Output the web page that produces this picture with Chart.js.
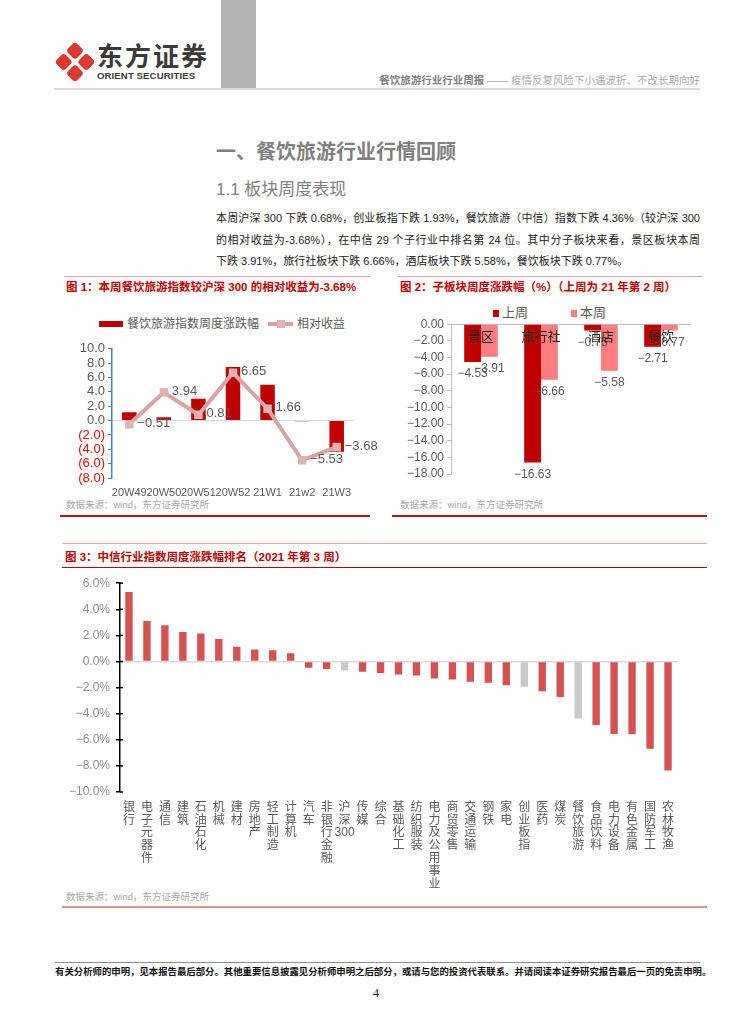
<!DOCTYPE html>
<html><head><meta charset="utf-8">
<script src="https://cdn.jsdelivr.net/npm/chart.js@4/dist/chart.umd.min.js"></script>
<style>
html,body{margin:0;padding:0;background:#fff;}
body{width:754px;height:1024px;position:relative;overflow:hidden;font-family:'Liberation Sans','Noto Sans CJK SC',sans-serif;}
.abs{position:absolute;}
.hline{position:absolute;height:0;}
.para{position:absolute;left:216px;width:484px;font-size:11px;color:#222;line-height:14px;white-space:nowrap;}
.just{text-align:justify;text-align-last:justify;white-space:normal;}
.ctitle{position:absolute;font-size:11.5px;font-weight:bold;color:#C00000;white-space:nowrap;line-height:14px;}
.src{position:absolute;font-size:9.5px;color:#A6A6A6;white-space:nowrap;line-height:12px;}
.lg{position:absolute;font-size:12px;color:#595959;white-space:nowrap;line-height:14px;}
canvas{display:block;}
.cwrap{position:absolute;}
</style></head>
<body>
<!-- header -->
<svg class="abs" style="left:54px;top:40px" width="42" height="44" viewBox="0 0 42 44">
  <g transform="translate(21,22) rotate(45)">
    <rect x="-14.5" y="-14.5" width="13" height="13" rx="3.5" fill="#DC3A31"/>
    <rect x="1.5" y="-14.5" width="13" height="13" rx="3.5" fill="#DC3A31"/>
    <rect x="-14.5" y="1.5" width="13" height="13" rx="3.5" fill="#DC3A31"/>
    <rect x="1.5" y="1.5" width="13" height="13" rx="3.5" fill="#DC3A31"/>
  </g>
</svg>
<div class="abs" style="left:97px;top:40px;font-size:26px;font-weight:bold;color:#3A3A3A;letter-spacing:2px;line-height:30px;font-family:'Noto Sans CJK SC',sans-serif;">东方证券</div>
<div class="abs" style="left:97px;top:70px;font-size:9.6px;font-weight:bold;color:#3A3A3A;line-height:11px;letter-spacing:0.1px;">ORIENT SECURITIES</div>
<div class="abs" style="left:221px;top:0;width:35px;height:89px;background:#B3B3B3;"></div>
<div class="abs" style="right:54px;top:74px;font-size:10.5px;line-height:13px;color:#A6A6A6;white-space:nowrap;"><span style="color:#7F7F7F;font-weight:bold;">餐饮旅游行业行业周报</span> —— 疫情反复风险下小遇波折、不改长期向好</div>
<div class="hline" style="left:54px;width:646px;top:88px;border-top:2px solid #DADADA;"></div>

<div class="abs" style="left:216px;top:139px;font-size:20px;font-weight:bold;color:#7F7F7F;line-height:26px;white-space:nowrap;">一、餐饮旅游行业行情回顾</div>
<div class="abs" style="left:216px;top:179px;font-size:17px;color:#7F7F7F;line-height:22px;white-space:nowrap;">1.1 板块周度表现</div>
<div class="para just" style="top:211px;">本周沪深 300 下跌 0.68%，创业板指下跌 1.93%，餐饮旅游（中信）指数下跌 4.36%（较沪深 300</div>
<div class="para just" style="top:233px;">的相对收益为-3.68%），在中信 29 个子行业中排名第 24 位。其中分子板块来看，景区板块本周</div>
<div class="para" style="top:254px;">下跌 3.91%，旅行社板块下跌 6.66%，酒店板块下跌 5.58%，餐饮板块下跌 0.77%。</div>

<!-- chart 1 frame -->
<div class="hline" style="left:64px;width:306px;top:276px;border-top:1px solid #E8A0A0;"></div>
<div class="ctitle" style="left:66px;top:280px;">图 1：本周餐饮旅游指数较沪深 300 的相对收益为-3.68%</div>
<div class="src" style="left:66px;top:499px;">数据来源：wind，东方证券研究所</div>
<div class="hline" style="left:60px;width:310px;top:515px;border-top:2px solid #C81010;"></div>
<div class="abs" style="left:99px;top:321px;width:24px;height:6px;background:#C00000;"></div>
<div class="lg" style="left:127px;top:317px;">餐饮旅游指数周度涨跌幅</div>
<div class="abs" style="left:268px;top:322px;width:25px;height:4px;background:#D9A3A3;"></div>
<div class="abs" style="left:277px;top:320px;width:8px;height:8px;background:#DDB3B3;"></div>
<div class="lg" style="left:297px;top:317px;">相对收益</div>
<div class="cwrap" style="left:55px;top:338px;width:330px;height:162px;"><canvas id="c1"></canvas></div>

<!-- chart 2 frame -->
<div class="hline" style="left:398px;width:304px;top:276px;border-top:1px solid #E8A0A0;"></div>
<div class="ctitle" style="left:400px;top:280px;">图 2：子板块周度涨跌幅（%）（上周为 21 年第 2 周）</div>
<div class="src" style="left:400px;top:499px;">数据来源：wind，东方证券研究所</div>
<div class="hline" style="left:392px;width:315px;top:515px;border-top:2px solid #C81010;"></div>
<div class="abs" style="left:493px;top:310px;width:6px;height:7px;background:#C00000;"></div>
<div class="lg" style="left:502px;top:305px;font-size:13px;line-height:16px;">上周</div>
<div class="abs" style="left:571px;top:310px;width:6px;height:7px;background:#FF7C80;"></div>
<div class="lg" style="left:580px;top:305px;font-size:13px;line-height:16px;">本周</div>
<div class="cwrap" style="left:390px;top:314px;width:312px;height:174px;"><canvas id="c2"></canvas></div>

<!-- chart 3 frame -->
<div class="hline" style="left:62px;width:645px;top:543px;border-top:1px solid #E8A0A0;"></div>
<div class="ctitle" style="left:65px;top:550px;">图 3：中信行业指数周度涨跌幅排名（2021 年第 3 周）</div>
<div class="hline" style="left:62px;width:645px;top:567px;border-top:1px solid #C00000;"></div>
<div class="cwrap" style="left:55px;top:570px;width:632px;height:320px;"><canvas id="c3"></canvas></div>
<div class="src" style="left:66px;top:891px;">数据来源：wind，东方证券研究所</div>
<div class="hline" style="left:62px;width:645px;top:906px;border-top:2px solid #E88E8E;"></div>

<!-- footer -->
<div class="hline" style="left:55px;width:645px;top:962px;border-top:1.5px solid #8C8C8C;"></div>
<div class="abs" style="left:55px;top:966px;font-size:9.4px;font-weight:bold;color:#111;white-space:nowrap;line-height:12px;">有关分析师的申明，见本报告最后部分。其他重要信息披露见分析师申明之后部分，或请与您的投资代表联系。并请阅读本证券研究报告最后一页的免责申明。</div>
<div class="abs" style="left:373px;top:986px;font-size:12px;color:#222;font-family:'Liberation Serif',serif;">4</div>

<script>
// ---------- data ----------
const weeks = ['20W49','20W50','20W51','20W52','21W1','21w2','21W3'];
const indexWeeklyChange = [1.15, 0.46, 3.03, 7.45, 5.0, -0.09, -4.36];
const relativeReturn = [-0.51, 3.94, 0.81, 6.65, 1.66, -5.53, -3.68];

const sectors = ['景区','旅行社','酒店','餐饮'];
const lastWeek = [-4.53, -16.63, -0.75, -2.71];
const thisWeek = [-3.91, -6.66, -5.58, -0.77];

const industries = ['银行','电子元器件','通信','建筑','石油石化','机械','建材','房地产','轻工制造','计算机','汽车','非银行金融','沪深300','传媒','综合','基础化工','纺织服装','电力及公用事业','商贸零售','交通运输','钢铁','家电','创业板指','医药','煤炭','餐饮旅游','食品饮料','电力设备','有色金属','国防军工','农林牧渔'];
const industryChange = [5.32, 3.10, 2.78, 2.27, 2.15, 1.72, 1.13, 0.92, 0.87, 0.64, -0.48, -0.58, -0.68, -0.78, -0.88, -1.00, -1.08, -1.30, -1.38, -1.56, -1.63, -1.82, -1.93, -2.28, -2.72, -4.36, -4.87, -5.55, -5.58, -6.68, -8.35];
const benchmarkNames = ['沪深300','创业板指','餐饮旅游'];

// ---------- helpers ----------
Chart.defaults.font.family = "'Liberation Sans','Noto Sans CJK SC',sans-serif";
Chart.defaults.animation = false;
Chart.defaults.plugins.legend.display = false;
Chart.defaults.plugins.tooltip.enabled = false;
const fmt = (v, d) => (v < 0 ? '\u2212' : '') + Math.abs(v).toFixed(d);

// ---------- chart 1 ----------
const lineLabels = {
  id: 'lineLabels',
  afterDatasetsDraw(chart) {
    const ctx = chart.ctx;
    const meta = chart.getDatasetMeta(1);
    ctx.save();
    ctx.font = "13px 'Liberation Sans',sans-serif";
    ctx.fillStyle = '#595959';
    ctx.textAlign = 'left';
    ctx.textBaseline = 'middle';
    meta.data.forEach((pt, i) => {
      ctx.fillText(fmt(relativeReturn[i], 2), pt.x + 8, pt.y - 1);
    });
    ctx.restore();
  }
};
new Chart(document.getElementById('c1'), {
  data: {
    labels: weeks,
    datasets: [
      {type: 'bar', label: '餐饮旅游指数周度涨跌幅', data: indexWeeklyChange, backgroundColor: '#C00000',
       barPercentage: 0.42, categoryPercentage: 1, order: 2},
      {type: 'line', label: '相对收益', data: relativeReturn, borderColor: '#D9A3A3', borderWidth: 4,
       pointStyle: 'rect', pointRadius: 6, pointBackgroundColor: '#DDB3B3', pointBorderColor: '#DDB3B3',
       pointBorderWidth: 0, tension: 0, order: 1}
    ]
  },
  options: {
    responsive: true, maintainAspectRatio: false,
    layout: {padding: {top: 10, right: 31, left: 0, bottom: 0}},
    scales: {
      x: {
        grid: {display: false}, border: {display: false},
        ticks: {color: '#595959', font: {size: 11}, maxRotation: 0, autoSkip: false, padding: 0},
        afterFit: s => { s.height = 22; }
      },
      y: {
        min: -8, max: 10,
        ticks: {stepSize: 2, autoSkip: false, font: {size: 13}, padding: 3,
          color: c => c.tick.value < 0 ? '#FF0000' : '#595959',
          callback: v => v < 0 ? '(' + Math.abs(v).toFixed(1) + ')' : v.toFixed(1)},
        grid: {color: c => c.tick.value === 0 ? '#D9D9D9' : 'rgba(0,0,0,0)', tickColor: '#4A7EC4', tickLength: 4, lineWidth: 1},
        border: {color: '#4A7EC4', width: 1.5},
        afterFit: s => { s.width = 57; }
      }
    }
  },
  plugins: [lineLabels]
});

// ---------- chart 2 ----------
const barLabels2 = {
  id: 'barLabels2',
  afterDatasetsDraw(chart) {
    const ctx = chart.ctx;
    ctx.save();
    ctx.font = "12px 'Liberation Sans',sans-serif";
    ctx.fillStyle = '#595959';
    ctx.textAlign = 'center';
    ctx.textBaseline = 'middle';
    [lastWeek, thisWeek].forEach((arr, di) => {
      chart.getDatasetMeta(di).data.forEach((b, i) => {
        ctx.fillText(fmt(arr[i], 2), b.x, b.y + 12);
      });
    });
    const xs = chart.scales.x;
    ctx.font = "13px 'Noto Sans CJK SC',sans-serif";
    ctx.fillStyle = '#222';
    sectors.forEach((s, i) => {
      ctx.fillText(s, xs.getPixelForValue(i), chart.chartArea.top + 12);
    });
    ctx.restore();
  }
};
new Chart(document.getElementById('c2'), {
  type: 'bar',
  data: {
    labels: sectors,
    datasets: [
      {label: '上周', data: lastWeek, backgroundColor: '#C00000', barPercentage: 1, categoryPercentage: 0.56},
      {label: '本周', data: thisWeek, backgroundColor: '#FF7C80', barPercentage: 1, categoryPercentage: 0.56}
    ]
  },
  options: {
    responsive: true, maintainAspectRatio: false,
    layout: {padding: {top: 10, right: 11, left: 0, bottom: 14}},
    scales: {
      x: {display: false},
      y: {
        min: -18, max: 0,
        ticks: {stepSize: 2, autoSkip: false, color: '#595959', font: {size: 12}, padding: 3,
          callback: v => v === 0 ? '0.00' : fmt(v, 2)},
        grid: {color: c => c.tick.value === 0 ? '#BFBFBF' : 'rgba(0,0,0,0)', tickColor: '#BFBFBF', tickLength: 4},
        border: {color: '#BFBFBF', width: 1},
        afterFit: s => { s.width = 61; }
      }
    }
  },
  plugins: [barLabels2]
});

// ---------- chart 3 ----------
const crossTicks = {
  id: 'crossTicks',
  afterDraw(chart) {
    const ys = chart.scales.y, ctx = chart.ctx, x = chart.chartArea.left;
    ctx.save();
    ctx.strokeStyle = '#000';
    ctx.lineWidth = 1.5;
    ys.ticks.forEach(t => {
      const y = ys.getPixelForValue(t.value);
      ctx.beginPath(); ctx.moveTo(x, y); ctx.lineTo(x + 3, y); ctx.stroke();
    });
    ctx.restore();
  }
};
const verticalLabels = industries.map(n => n === '沪深300' ? ['沪','深','300'] : n.split(''));
const barColors = industries.map(n => benchmarkNames.includes(n) ? '#C9C9C9' : '#D55252');
new Chart(document.getElementById('c3'), {
  type: 'bar',
  data: {
    labels: verticalLabels,
    datasets: [{label: '周涨跌幅', data: industryChange, backgroundColor: barColors, barPercentage: 0.41, categoryPercentage: 1}]
  },
  options: {
    responsive: true, maintainAspectRatio: false,
    layout: {padding: {top: 10, right: 10, left: 0, bottom: 0}},
    scales: {
      x: {
        grid: {display: false}, border: {display: false},
        ticks: {color: '#595959', font: {size: 12, lineHeight: 1.07}, maxRotation: 0, minRotation: 0, autoSkip: false, padding: 1},
        afterFit: s => { s.height = 98; }
      },
      y: {
        min: -10, max: 6,
        ticks: {stepSize: 2, autoSkip: false, color: '#8C8C8C', font: {size: 12}, padding: 6,
          callback: v => fmt(v, 1) + '%'},
        grid: {color: c => c.tick.value === 0 ? '#D9D9D9' : 'rgba(0,0,0,0)', tickColor: '#000', tickLength: 4, lineWidth: 1.5},
        border: {color: '#000', width: 1.5},
        afterFit: s => { s.width = 65; }
      }
    }
  },
  plugins: [crossTicks]
});
</script>
</body></html>
